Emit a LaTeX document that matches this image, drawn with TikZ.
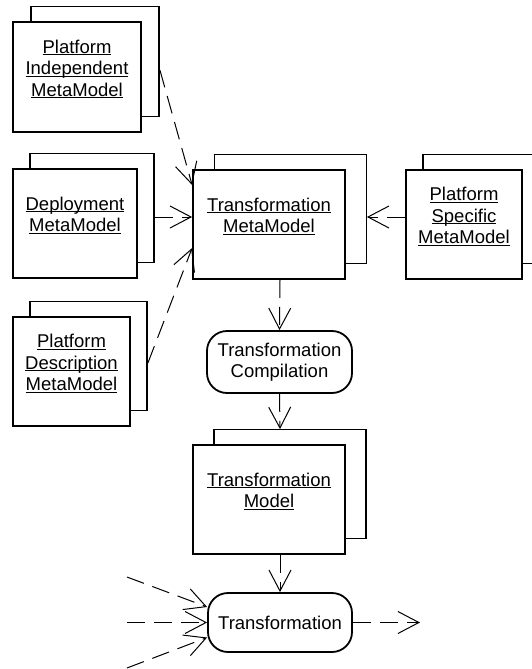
\documentclass[tikz,border=0pt]{standalone}
\usepackage{fontspec}
\setmainfont{Liberation Sans}
\usetikzlibrary{arrows.meta,shadows,calc}

\newcommand{\ulword}[1]{\underline{\smash{#1}}}

\tikzset{
	model/.style={draw, fill=white, line width=1.8pt, minimum height=109pt, align=center,
		font=\fontsize{18.5}{21.5}\selectfont, text depth=5pt,
		copy shadow={shadow xshift=#1, shadow yshift=15.5pt}},
	model/.default=17pt,
	activity/.style={draw, fill=white, line width=1.8pt, rounded corners=20pt, align=center,
		font=\fontsize{18.5}{21.5}\selectfont},
	depends/.style={line width=1pt, dash pattern=on 18pt off 9pt,
		-{Straight Barb[length=21pt,width=22pt,line width=1pt]}}
}

\begin{document}
\begin{tikzpicture}[x=1pt,y=1pt,yscale=-1,xscale=1]
	\useasboundingbox (0,0) rectangle (532,669);

	%Shape: Model boxes [left column]
	\node [model=18pt, minimum width=128pt, minimum height=110pt] (pim) at (77,77) {\ulword{Platform}\\\ulword{Independent}\\\ulword{MetaModel}};
	\node [model, minimum width=124pt] (dep) at (75,223.5) {\ulword{Deployment}\\\ulword{MetaModel}};
	\node [model, minimum width=117pt] (pdm) at (71.5,371.5) {\ulword{Platform}\\\ulword{Description}\\\ulword{MetaModel}};
	%Shape: Model boxes [middle and right]
	\node [model=21.5pt, minimum width=152pt] (tmm) at (269,224.5) {\ulword{Transformation}\\\ulword{MetaModel}};
	\node [model, minimum width=116pt] (psm) at (464,224.5) {\ulword{Platform}\\\ulword{Specific}\\\ulword{MetaModel}};
	\node [model=21pt, minimum width=152pt] (tm) at (269,499.5) {\ulword{Transformation}\\\ulword{Model}};

	%Shape: Rounded boxes
	\node [activity, minimum width=145pt, minimum height=62pt] (tc) at (279.5,362) {Transformation\\Compilation};
	\node [activity, minimum width=144pt, minimum height=59pt] (tr) at (280,622.5) {Transformation};

	%Free ends
	\coordinate (in1) at (127,577);
	\coordinate (in2) at (127,622.5);
	\coordinate (in3) at (127,668);
	\coordinate (out) at (420,622.5);

	%Dashed arrows into the metamodel
	\draw [depends] ($(pim.east)+(18,-7)$) -- ($(tmm.west)+(0,-39.5)$);
	\draw [depends] ($(dep.east)+(17,-6.5)$) -- ($(tmm.west)+(0,-7.5)$);
	\draw [depends] ($(pdm.east)+(17,-8.5)$) -- ($(tmm.west)+(0,23.5)$);
	\draw [depends] ($(psm.west)+(0,-7.5)$) -- ($(tmm.east)+(21,-7.5)$);
	%Dashed arrows down the chain
	\draw [depends] ($(tmm.south)+(11,0)$) -- (tc.north);
	\draw [depends] (tc.south) -- ($(tm.north)+(11,-15)$);
	\draw [depends] ($(tm.south)+(11,0)$) -- (tr.north);
	%Inputs and output of the transformation
	\draw [depends] (in1) -- ($(tr.west)+(0,-15.5)$);
	\draw [depends] (in2) -- (tr.west);
	\draw [depends] (in3) -- ($(tr.west)+(0,15)$);
	\draw [depends] (tr.east) -- (out);

\end{tikzpicture}
\end{document}
